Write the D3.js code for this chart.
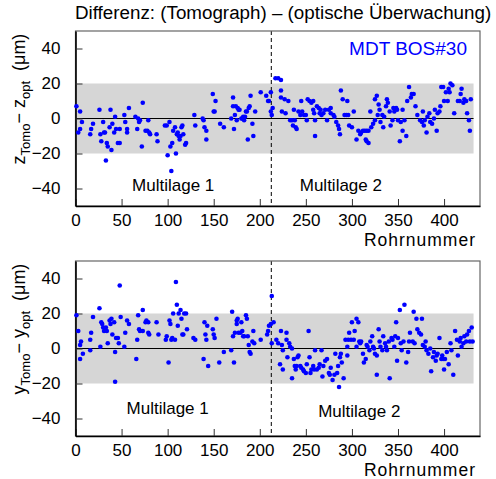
<!DOCTYPE html>
<html>
<head>
<meta charset="utf-8">
<script src="https://cdn.jsdelivr.net/npm/d3@7"></script>
<style>
  html, body { margin: 0; padding: 0; background: #fff; }
  svg text { font-family: "Liberation Sans", Arial, Helvetica, sans-serif; }
</style>
</head>
<body>
<div id="chart"></div>
<script>
// tube number range, tick values
var xTicks = [0, 50, 100, 150, 200, 250, 300, 350, 400];
var yTicks = [-40, -20, 0, 20, 40];
var tubeCount = 432;      // gray band / zero line extent
var layerBorder = 212.5;  // Multilage 1 | Multilage 2
var band = [-20, 20];

// z_Tomo - z_opt  [tube, um]
var zDiff = [
  [1,7],[5,4],[7,-2],[5,-6],[3,-8],[16,-9],[17,-6],[19,-3],[26,5],[27,-9],[28,-13],[30,-2],[31,-8],[32,-8],
  [33,-24],[34,-14],[35,-16],[37,-5],[38,5],[39,-18],[40,-3],[42,-8],[43,1],[44,-6],[46,-14],[48,-14],[48,-6],
  [53,2],[54,-2],[56,-8],[56,-6],[58,6],[65,1],[67,-6],[68,0],[69,-2],[70,-1],[72,-16],[73,9],[76,-7],[78,-7],
  [79,-1],[80,-8],[81,-9],[88,-9],[89,-13],[97,-4],[99,-4],[100,-21],[102,-2],[103,-16],[104,-30],[105,-14],
  [106,-7],[108,-5],[109,-20],[110,-9],[111,-8],[112,-10],[113,-12],[114,-10],[115,-5],[116,-4],[117,-9],
  [119,-15],[120,-14],[129,2],[130,-4],[138,0],[139,-1],[140,-5],[142,-7],[142,-12],[149,14],[150,4],[151,4],
  [152,10],[157,-3],[161,-5],[169,0],[171,12],[171,7],[172,-6],[173,2],[174,7],[175,-1],[176,6],[177,5],[178,5],
  [180,0],[181,0],[182,1],[183,-1],[184,1],[185,4],[186,4],[187,-12],[188,6],[189,7],[190,13],[192,-3],[193,-10],
  [195,4],[201,15],[207,13],[209,10],[210,10],[212,15],[212,4],[213,2],
  [214,6],[217,23],[220,23],[223,22],[223,16],[223,12],[227,11],[224,4],[228,3],[231,10],[233,-1],[235,-1],
  [237,5],[236,-4],[238,-1],[239,-5],[240,-6],[242,4],[244,2],[245,10],[246,4],[248,2],[250,2],[251,-1],[252,11],
  [254,10],[256,9],[258,10],[258,5],[259,3],[260,-10],[260,-1],[262,7],[264,6],[265,3],[266,5],[267,2],[269,3],
  [271,5],[273,-1],[275,5],[277,6],[277,3],[280,2],[281,1],[283,-2],[285,-4],[286,-6],[287,-9],[288,16],[290,11],
  [292,2],[294,2],[295,10],[296,2],[297,-4],[300,-5],[302,4],[305,-12],[307,-7],[309,-9],[310,-8],[312,-7],
  [314,-7],[315,-12],[316,-13],[318,-14],[316,-7],[318,-7],[320,4],[321,-5],[323,-3],[325,-1],[325,11],[327,13],
  [328,2],[329,8],[330,5],[331,-2],[333,2],[334,-5],[335,1],[337,7],[338,11],[339,9],[341,4],[342,-4],[344,-1],
  [345,6],[346,4],[348,6],[349,5],[350,-1],[352,-13],[353,-2],[355,-7],[355,5],[357,-1],[359,-10],[360,10],
  [362,18],[364,12],[365,14],[367,14],[369,7],[371,2],[374,-1],[376,-2],[377,4],[378,-4],[379,-1],[381,-8],
  [382,1],[384,3],[385,-2],[387,-3],[389,0],[390,5],[392,-7],[393,3],[395,4],[396,7],[397,18],[399,18],[400,10],
  [402,15],[404,10],[405,17],[406,15],[407,20],[409,19],[411,3],[415,10],[417,10],[418,14],[419,17],[421,9],
  [422,11],[424,10],[425,3],[427,-1],[428,-7],[429,11]
];

// y_Tomo - y_opt  [tube, um]
var yDiff = [
  [1,19],[3,10],[5,2],[6,4],[5,-6],[8,-3],[16,5],[17,9],[16,-1],[19,18],[26,23],[27,1],[28,15],[29,14],[31,10],
  [30,12],[33,12],[34,10],[35,3],[37,16],[39,17],[38,14],[40,8],[42,15],[43,-2],[44,6],[46,6],[47,3],[48,36],
  [49,18],[43,-19],[53,1],[54,9],[56,16],[58,14],[66,-6],[67,5],[68,19],[69,11],[70,10],[73,22],[73,10],[76,15],
  [77,16],[79,15],[80,8],[79,9],[88,15],[90,8],[98,5],[99,7],[101,-8],[102,16],[103,14],[104,5],[105,6],[106,20],
  [108,5],[109,38],[110,25],[111,13],[112,20],[114,22],[115,17],[116,8],[117,8],[118,20],[120,20],[121,11],
  [128,6],[130,5],[139,-6],[140,15],[141,8],[142,5],[143,13],[144,-10],[149,11],[150,8],[151,6],[153,17],
  [156,-8],[161,-2],[169,-1],[170,21],[171,7],[172,-8],[173,9],[175,16],[175,14],[176,17],[177,9],[179,9],
  [180,15],[181,10],[182,7],[183,7],[185,19],[186,17],[187,7],[188,2],[189,-2],[190,-3],[192,4],[193,10],
  [194,3],[201,5],[208,8],[209,10],[210,13],[212,14],[213,3],[213,30],
  [215,15],[218,5],[220,3],[222,-9],[223,10],[225,-12],[224,2],[225,-1],[229,9],[229,5],[230,-5],[232,3],
  [233,1],[235,0],[235,-17],[237,-6],[238,-10],[239,-12],[240,-10],[241,-5],[242,-4],[244,-10],[245,-11],
  [247,-12],[248,-13],[250,-14],[251,-9],[253,10],[254,-5],[255,-14],[256,-12],[258,-10],[259,-12],[260,-1],
  [262,-12],[264,-11],[265,-9],[267,-1],[268,-16],[269,-10],[271,-7],[273,-6],[275,-14],[276,-15],[277,-11],
  [279,-18],[281,-15],[282,-3],[284,-14],[285,-10],[286,-22],[287,-5],[288,-3],[289,-8],[291,-17],[293,5],
  [295,1],[295,-4],[296,5],[297,9],[299,5],[300,15],[302,5],[303,10],[305,17],[305,1],[307,15],[308,4],[309,3],
  [310,4],[312,-3],[313,-8],[315,-6],[316,2],[317,1],[319,-1],[320,4],[322,7],[323,1],[324,0],[325,-3],
  [327,-15],[327,-4],[329,11],[330,4],[331,1],[333,-1],[334,7],[336,3],[337,1],[338,-1],[340,4],[341,-17],
  [343,6],[344,5],[346,1],[347,7],[348,15],[349,-7],[350,6],[352,22],[353,3],[354,-1],[356,4],[357,25],[359,-8],
  [361,-2],[362,4],[363,9],[366,4],[367,21],[368,3],[370,17],[371,11],[373,9],[375,8],[376,17],[377,2],[379,1],
  [380,4],[381,-1],[383,-3],[385,0],[386,-13],[388,-5],[389,-2],[391,-7],[392,-4],[393,-3],[395,6],[397,-6],
  [398,-4],[399,-6],[400,-12],[401,-6],[403,-2],[405,-9],[407,3],[408,-1],[410,-15],[412,10],[414,5],[415,-4],
  [417,4],[418,6],[419,1],[421,3],[422,7],[424,4],[425,8],[427,10],[428,4],[430,12],[431,4]
];

var W = 496, H = 479;
var svg = d3.select('#chart').append('svg').attr('width', W).attr('height', H);

var x = d3.scaleLinear().domain([0, 439]).range([75.5, 480]);

svg.append('text').attr('x', 75).attr('y', 19).attr('font-size', '18.8px').attr('fill', '#000')
    .text('Differenz: (Tomograph) \u2013 (optische \u00dcberwachung)');

var panels = [
  {top: 31,  bottom: 206, data: zDiff, v: 'z', ml1: [106, -38], ml2: [288, -38], tag: true},
  {top: 261, bottom: 436, data: yDiff, v: 'y', ml1: [100, -34], ml2: [308, -36], tag: false}
];

panels.forEach(function(p){
    var y = d3.scaleLinear().domain([-50, 50]).range([p.bottom, p.top]);
    var g = svg.append('g');

    // tolerance band and zero line
    g.append('rect').attr('x', x(0)).attr('y', y(band[1]))
        .attr('width', x(tubeCount) - x(0)).attr('height', y(band[0]) - y(band[1]))
        .attr('fill', '#d6d6d6');
    g.append('line').attr('x1', x(0)).attr('x2', x(tubeCount)).attr('y1', y(0)).attr('y2', y(0))
        .attr('stroke', '#000').attr('stroke-width', 1);
    g.append('line').attr('x1', x(layerBorder)).attr('x2', x(layerBorder)).attr('y1', p.top).attr('y2', p.bottom)
        .attr('stroke', '#000').attr('stroke-width', 1).attr('stroke-dasharray', '4,3');

    // frame: grey top/right, black left/bottom
    g.append('rect').attr('x', x.range()[0]).attr('y', p.top)
        .attr('width', x.range()[1] - x.range()[0]).attr('height', p.bottom - p.top)
        .attr('fill', 'none').attr('stroke', '#666').attr('stroke-width', 1.2);

    var xAxis = g.append('g').attr('transform', 'translate(0,' + p.bottom + ')')
        .call(d3.axisBottom(x).tickValues(xTicks).tickSizeInner(-7).tickSizeOuter(0).tickPadding(8));
    var yAxis = g.append('g').attr('transform', 'translate(' + x.range()[0] + ',0)')
        .call(d3.axisLeft(y).tickValues(yTicks).tickSizeInner(-7).tickSizeOuter(0).tickPadding(15)
            .tickFormat(function(d){ return d < 0 ? '\u2212' + (-d) : d; }));
    [xAxis, yAxis].forEach(function(a){
        a.select('.domain').attr('stroke', '#000').attr('stroke-width', 1.6);
        a.selectAll('.tick line').attr('stroke', '#333');
        a.selectAll('.tick text').attr('font-size', '17px').attr('fill', '#000')
            .attr('font-family', '"Liberation Sans", Arial, sans-serif');
    });
    yAxis.selectAll('.tick text').attr('x', -15);

    g.selectAll('circle.pt').data(p.data).join('circle').attr('class', 'pt')
        .attr('cx', function(d){ return x(d[0]); }).attr('cy', function(d){ return y(d[1]); })
        .attr('r', 2.3).attr('fill', '#0000ff');

    g.append('text').attr('x', x(p.ml1[0])).attr('y', y(p.ml1[1])).attr('text-anchor', 'middle')
        .attr('dy', '0.35em').attr('font-size', '17px').text('Multilage 1');
    g.append('text').attr('x', x(p.ml2[0])).attr('y', y(p.ml2[1])).attr('text-anchor', 'middle')
        .attr('dy', '0.35em').attr('font-size', '17px').text('Multilage 2');

    if(p.tag){
        g.append('text').attr('x', 467).attr('y', 55).attr('text-anchor', 'end')
            .attr('font-size', '19px').attr('fill', '#0000ff').text('MDT BOS#30');
    }

    svg.append('text').attr('x', 476).attr('y', p.bottom + 40).attr('text-anchor', 'end')
        .attr('font-size', '17.5px').attr('letter-spacing', '1px').text('Rohrnummer');

    // rotated y label with subscripts
    var cy = p.v === 'z' ? 99 : 329;
    var lab = svg.append('text').attr('transform', 'translate(25,' + cy + ') rotate(-90)')
        .attr('text-anchor', 'middle').attr('font-size', '18px');
    lab.append('tspan').text(p.v);
    lab.append('tspan').attr('font-size', '13px').attr('dy', 5).text('Tomo');
    lab.append('tspan').attr('dy', -5).text('\u2212 ' + p.v);
    lab.append('tspan').attr('font-size', '13px').attr('dy', 5).text('opt');
    lab.append('tspan').attr('dy', -5).attr('dx', 10).text('(\u03bcm)');
});
</script>
</body>
</html>
